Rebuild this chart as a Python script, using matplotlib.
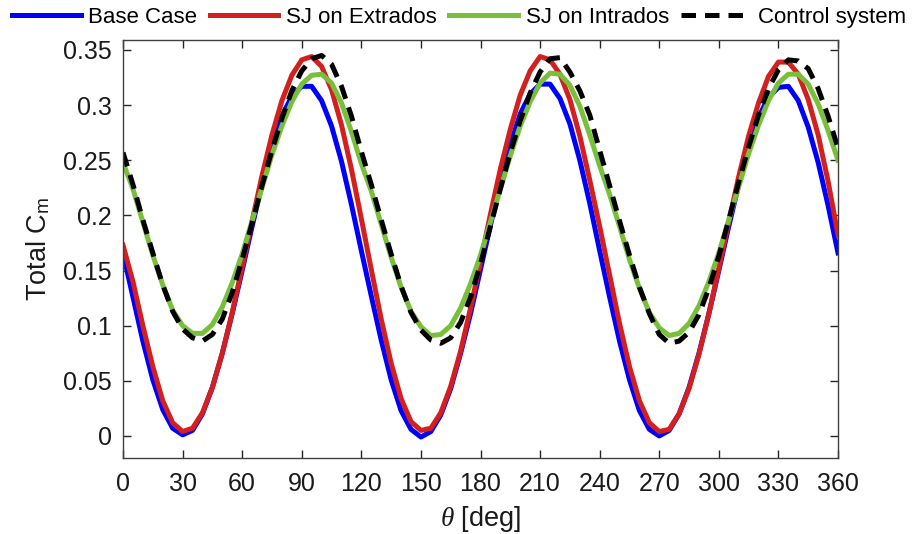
import numpy as np
import matplotlib
matplotlib.use('Agg')
import matplotlib.pyplot as plt

plt.rcParams['font.family'] = ['Liberation Sans', 'DejaVu Sans']
plt.rcParams['mathtext.fontset'] = 'custom'
plt.rcParams['mathtext.rm'] = 'Liberation Sans'
plt.rcParams['mathtext.it'] = 'Liberation Serif:italic'

# azimuthal position [deg], sampled every 5 deg
theta = list(range(0, 361, 5))

base_case = [0.166, 0.126, 0.086, 0.051, 0.024, 0.007, 0.001, 0.005, 0.020, 0.044, 0.075, 0.111,
             0.150, 0.190, 0.228, 0.262, 0.290, 0.308, 0.317, 0.317, 0.304, 0.281, 0.249, 0.210,
             0.168, 0.127, 0.087, 0.051, 0.023, 0.006, -0.001, 0.004, 0.019, 0.043, 0.075, 0.111,
             0.151, 0.191, 0.230, 0.264, 0.292, 0.310, 0.319, 0.319, 0.306, 0.283, 0.250, 0.211,
             0.168, 0.126, 0.086, 0.051, 0.023, 0.006, 0.000, 0.005, 0.020, 0.044, 0.075, 0.111,
             0.150, 0.190, 0.228, 0.262, 0.289, 0.307, 0.316, 0.317, 0.304, 0.280, 0.248, 0.209,
             0.166]

sj_extrados = [0.173, 0.140, 0.100, 0.063, 0.032, 0.012, 0.004, 0.007, 0.021, 0.044, 0.075, 0.112,
               0.153, 0.195, 0.236, 0.273, 0.304, 0.327, 0.341, 0.344, 0.335, 0.314, 0.282, 0.242,
               0.197, 0.151, 0.106, 0.066, 0.034, 0.013, 0.005, 0.007, 0.021, 0.045, 0.077, 0.116,
               0.158, 0.201, 0.242, 0.278, 0.309, 0.331, 0.344, 0.341, 0.328, 0.305, 0.272, 0.232,
               0.190, 0.146, 0.102, 0.063, 0.032, 0.012, 0.004, 0.006, 0.020, 0.043, 0.074, 0.111,
               0.152, 0.194, 0.235, 0.272, 0.302, 0.326, 0.339, 0.339, 0.328, 0.305, 0.273, 0.231,
               0.182]

sj_intrados = [0.248, 0.224, 0.194, 0.164, 0.137, 0.114, 0.100, 0.093, 0.093, 0.101, 0.117, 0.139,
               0.165, 0.195, 0.225, 0.255, 0.281, 0.303, 0.319, 0.327, 0.328, 0.320, 0.302, 0.276,
               0.247, 0.222, 0.192, 0.162, 0.135, 0.113, 0.099, 0.091, 0.092, 0.100, 0.116, 0.138,
               0.164, 0.194, 0.224, 0.254, 0.281, 0.303, 0.320, 0.329, 0.328, 0.318, 0.299, 0.273,
               0.245, 0.219, 0.190, 0.160, 0.134, 0.112, 0.098, 0.091, 0.093, 0.102, 0.118, 0.140,
               0.166, 0.196, 0.226, 0.256, 0.282, 0.304, 0.320, 0.328, 0.328, 0.319, 0.301, 0.277,
               0.250]

control = [0.257, 0.228, 0.196, 0.166, 0.137, 0.113, 0.097, 0.089, 0.086, 0.092, 0.106, 0.130,
           0.160, 0.193, 0.227, 0.259, 0.288, 0.313, 0.331, 0.342, 0.345, 0.337, 0.317, 0.290,
           0.258, 0.228, 0.196, 0.165, 0.136, 0.112, 0.096, 0.087, 0.084, 0.089, 0.103, 0.126,
           0.156, 0.190, 0.224, 0.257, 0.286, 0.311, 0.330, 0.342, 0.343, 0.330, 0.313, 0.291,
           0.259, 0.227, 0.195, 0.164, 0.135, 0.111, 0.092, 0.084, 0.086, 0.094, 0.110, 0.134,
           0.163, 0.196, 0.230, 0.262, 0.291, 0.315, 0.332, 0.341, 0.340, 0.333, 0.315, 0.290,
           0.261]

x_ticks = list(range(0, 361, 30))
y_ticks = [0, 0.05, 0.1, 0.15, 0.2, 0.25, 0.3, 0.35]
y_tick_labels = ['0', '0.05', '0.1', '0.15', '0.2', '0.25', '0.3', '0.35']

fig = plt.figure(figsize=(9.21, 5.34), dpi=100)
ax = fig.add_axes([123 / 921, 1 - 458 / 534, (838 - 123) / 921, (458 - 40) / 534])

lw = 3.6
ax.plot(theta, base_case, color='#0000ff', lw=lw, label='Base Case')
ax.plot(theta, sj_extrados, color='#d41f1f', lw=lw, label='SJ on Extrados')
ax.plot(theta, sj_intrados, color='#79c03a', lw=lw, label='SJ on Intrados')
ax.plot(theta, control, color='black', lw=lw, linestyle=(0, (2.9, 1.8)), label='Control system')

ax.set_xlim(0, 360)
ax.set_ylim(-0.02, 0.359)
ax.set_xticks(x_ticks)
ax.set_yticks(y_ticks)
ax.set_yticklabels(y_tick_labels)
ax.tick_params(direction='in', length=6, width=1, top=True, right=True,
               labelsize=18, colors='#262626', labelcolor='#1a1a1a')
ax.tick_params(axis='x', pad=10)
ax.tick_params(axis='y', pad=8)
for s in ax.spines.values():
    s.set_color('#404040')
    s.set_linewidth(1)

ax.set_xlabel(r'$\it{\theta}$ [deg]', fontsize=19.5, color='#1a1a1a', labelpad=6)
ax.set_ylabel(r'Total C$_\mathregular{m}$', fontsize=19.5, color='#1a1a1a', labelpad=8)

fig.legend(loc='upper left', bbox_to_anchor=(5 / 921, 1.0), ncol=4, frameon=False,
           fontsize=16, handlelength=3.1, handletextpad=0.35, columnspacing=0.55,
           borderaxespad=0.1, borderpad=0.2)

fig.savefig('out.png', dpi=100)
